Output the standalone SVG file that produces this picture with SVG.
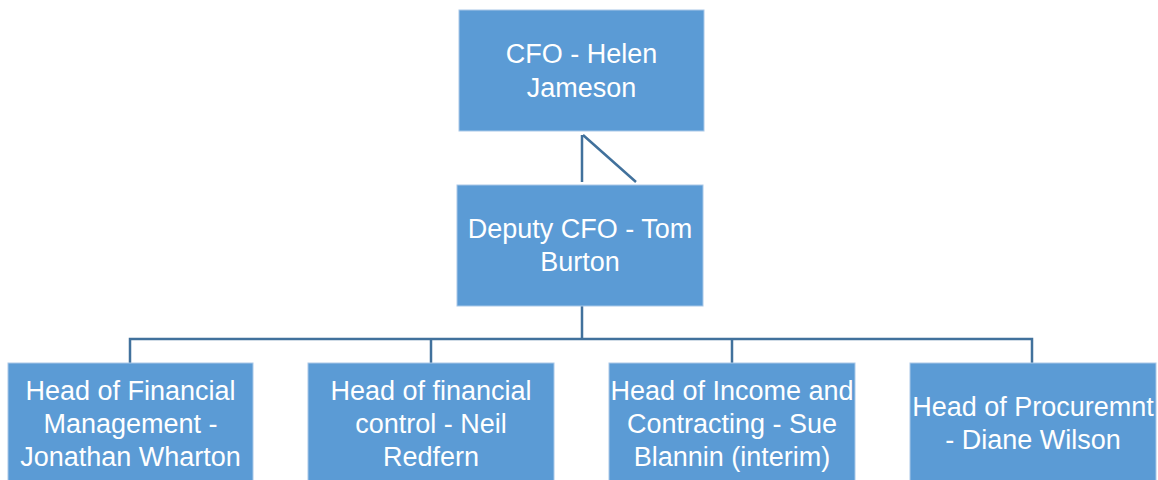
<svg xmlns="http://www.w3.org/2000/svg" width="1158" height="480" viewBox="0 0 1158 480">
<style>
.box{fill:#5B9BD5;stroke:#A9C8E8;stroke-width:1}
.t{font-family:"Liberation Sans",Arial,sans-serif;font-size:27px;fill:#FFFFFF;text-anchor:middle}
.c{fill:none;stroke:#41719C;stroke-width:2.5}
</style>
<rect x="0" y="0" width="1158" height="480" fill="#FFFFFF"/>
<g id="connectors">
<path class="c" d="M582,135 V182 M583,135 L636,182"/>
<path class="c" d="M582,306 V339 M130,364 V339 H1032 V364 M431,339 V364 M732,339 V364"/>
</g>
<g id="cfo">
<rect class="box" x="459" y="10" width="245" height="121"/>
<text class="t" x="581.5" y="63">CFO - Helen</text>
<text class="t" x="581.5" y="97">Jameson</text>
</g>
<g id="deputy">
<rect class="box" x="457" y="185" width="246" height="121"/>
<text class="t" x="580" y="238">Deputy CFO - Tom</text>
<text class="t" x="580" y="271">Burton</text>
</g>
<g id="fin-mgmt">
<rect class="box" x="8" y="363" width="245" height="125"/>
<text class="t" x="130.5" y="400">Head of Financial</text>
<text class="t" x="130.5" y="433">Management -</text>
<text class="t" x="130.5" y="466">Jonathan Wharton</text>
</g>
<g id="fin-control">
<rect class="box" x="308" y="363" width="246" height="125"/>
<text class="t" x="431" y="400">Head of financial</text>
<text class="t" x="431" y="433">control - Neil</text>
<text class="t" x="431" y="466">Redfern</text>
</g>
<g id="income">
<rect class="box" x="609" y="363" width="246" height="125"/>
<text class="t" x="732" y="400">Head of Income and</text>
<text class="t" x="732" y="433">Contracting - Sue</text>
<text class="t" x="732" y="466">Blannin (interim)</text>
</g>
<g id="procurement">
<rect class="box" x="910" y="363" width="246" height="125"/>
<text class="t" x="1033" y="416">Head of Procuremnt</text>
<text class="t" x="1033" y="449">- Diane Wilson</text>
</g>
</svg>
